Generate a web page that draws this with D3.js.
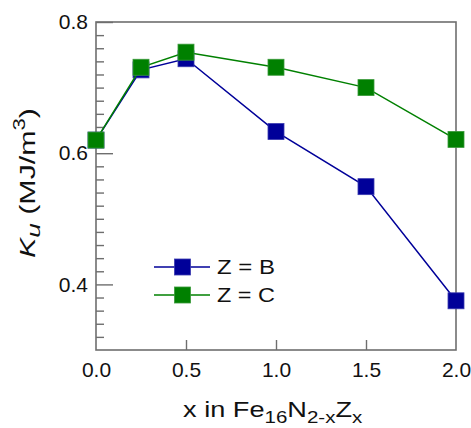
<!DOCTYPE html>
<html>
<head>
<meta charset="utf-8">
<script src="https://cdn.jsdelivr.net/npm/d3@7"></script>
<style>
  html, body { margin: 0; padding: 0; background: #fff; }
  svg { display: block; font-family: "Liberation Sans", Arial, sans-serif; }
</style>
</head>
<body>
<svg id="chart" width="471" height="428"></svg>
<script>
const xValues = [0, 0.25, 0.5, 1.0, 1.5, 2.0];
const seriesB = [0.620, 0.727, 0.744, 0.633, 0.549, 0.375];
const seriesC = [0.620, 0.731, 0.754, 0.731, 0.700, 0.621];
const seriesNames = ["Z = B", "Z = C"];
const seriesColors = ["#000099", "#008000"];
const seriesStroke = ["#3a3ab0", "#3a9a3a"];
const xTickValues = [0, 0.5, 1.0, 1.5, 2.0];
const yTickValues = [0.4, 0.6, 0.8];

const svg = d3.select("#chart");
const margin = {left: 96, top: 22, right: 15, bottom: 78};
const W = 471, H = 428;
const x = d3.scaleLinear().domain([0, 2]).range([margin.left, W - margin.right]);
const y = d3.scaleLinear().domain([0.3, 0.8]).range([H - margin.bottom, margin.top]);
const axisColor = "#6e6e6e";

// stretch a text element horizontally (in its own frame) to a target width, keeping anchor
function stretch(sel, targetW, cx, cy, rot) {
  const bb = sel.node().getBBox();
  const k = targetW / bb.width;
  const ox = bb.x + bb.width / 2;
  sel.attr("transform", `translate(${cx},${cy}) rotate(${rot}) scale(${k},1) translate(${-ox},0)`);
}

// frame
svg.append("rect")
  .attr("x", x(0)).attr("y", y(0.8))
  .attr("width", x(2) - x(0)).attr("height", y(0.3) - y(0.8))
  .attr("fill", "none").attr("stroke", axisColor).attr("stroke-width", 1.6);

// y axis ticks (inside)
const yMinor = d3.range(0.32, 0.8, 0.02).map(v => +v.toFixed(2)).filter(v => !yTickValues.some(t => Math.abs(t - v) < 1e-6));
const yAxisMinor = d3.axisRight(y).tickValues(yMinor).tickSize(8).tickFormat("");
const gyMinor = svg.append("g").attr("transform", `translate(${x(0)},0)`).call(yAxisMinor);
gyMinor.select(".domain").remove();
gyMinor.selectAll("line").attr("stroke", axisColor).attr("stroke-width", 1.4);

const yAxisMajor = d3.axisRight(y).tickValues(yTickValues).tickSize(17).tickFormat("");
const gyMajor = svg.append("g").attr("transform", `translate(${x(0)},0)`).call(yAxisMajor);
gyMajor.select(".domain").remove();
gyMajor.selectAll("line").attr("stroke", axisColor).attr("stroke-width", 1.4);

const yAxisLabels = d3.axisLeft(y).tickValues(yTickValues).tickSize(0).tickPadding(8).tickFormat(d3.format(".1f"));
const gyLab = svg.append("g").attr("transform", `translate(${x(0)},0)`).call(yAxisLabels);
gyLab.select(".domain").remove();
gyLab.selectAll("text").attr("font-size", 21).attr("fill", "#111").attr("font-family", "Liberation Sans, Arial, sans-serif");

// x axis ticks (inside, pointing up)
const xAxisTicks = d3.axisTop(x).tickValues([0.5, 1.0, 1.5]).tickSize(10).tickFormat("");
const gxT = svg.append("g").attr("transform", `translate(0,${y(0.3)})`).call(xAxisTicks);
gxT.select(".domain").remove();
gxT.selectAll("line").attr("stroke", axisColor).attr("stroke-width", 1.4);

const xAxisLabels = d3.axisBottom(x).tickValues(xTickValues).tickSize(0).tickPadding(12).tickFormat(d3.format(".1f"));
const gxLab = svg.append("g").attr("transform", `translate(0,${y(0.3)})`).call(xAxisLabels);
gxLab.select(".domain").remove();
gxLab.selectAll("text").attr("font-size", 21).attr("fill", "#111").attr("font-family", "Liberation Sans, Arial, sans-serif");

// series
const allSeries = [seriesB, seriesC];
const line = d3.line().x((d, i) => x(xValues[i])).y(d => y(d));
const ms = 16;
allSeries.forEach((s, k) => {
  svg.append("path").datum(s).attr("d", line)
    .attr("fill", "none").attr("stroke", seriesColors[k]).attr("stroke-width", 1.5);
  svg.append("g").selectAll("rect").data(s).join("rect")
    .attr("x", (d, i) => x(xValues[i]) - ms / 2)
    .attr("y", d => y(d) - ms / 2)
    .attr("width", ms).attr("height", ms)
    .attr("fill", seriesColors[k])
    .attr("stroke", seriesStroke[k]).attr("stroke-width", 0.8);
});

// legend
const legX0 = 154, legX1 = 210, legY0 = 267, legDY = 28;
seriesNames.forEach((name, k) => {
  const ly = legY0 + k * legDY;
  svg.append("line").attr("x1", legX0).attr("x2", legX1).attr("y1", ly).attr("y2", ly)
    .attr("stroke", seriesColors[k]).attr("stroke-width", 1.5);
  svg.append("rect").attr("x", (legX0 + legX1) / 2 - ms / 2 + 0.5).attr("y", ly - ms / 2)
    .attr("width", ms).attr("height", ms)
    .attr("fill", seriesColors[k]).attr("stroke", seriesStroke[k]).attr("stroke-width", 0.8);
  const t = svg.append("text").attr("x", 0).attr("y", 0)
    .attr("font-size", 20).attr("fill", "#111").text(name);
  const bb = t.node().getBBox();
  const k2 = 58 / bb.width;
  t.attr("transform", `translate(217,${ly + 7}) scale(${k2},1)`);
});

// x label
const xl = svg.append("text").attr("x", 0).attr("y", 0)
  .attr("font-size", 22.5).attr("fill", "#111");
xl.append("tspan").text("x in Fe");
xl.append("tspan").attr("font-size", 17).attr("dy", 6).text("16");
xl.append("tspan").attr("dy", -6).text("N");
xl.append("tspan").attr("font-size", 17).attr("dy", 6).text("2-x");
xl.append("tspan").attr("dy", -6).text("Z");
xl.append("tspan").attr("font-size", 17).attr("dy", 6).text("x");
stretch(xl, 180, 273, 416.5, 0);

// y label
const yl = svg.append("text").attr("x", 0).attr("y", 0)
  .attr("font-size", 22).attr("fill", "#111");
yl.append("tspan").attr("font-style", "italic").text("K");
yl.append("tspan").attr("font-style", "italic").attr("font-size", 19).attr("dy", 5).text("u");
yl.append("tspan").attr("dy", -5).text(" (MJ/m");
yl.append("tspan").attr("font-size", 16).attr("dy", -10).text("3");
yl.append("tspan").attr("dy", 10).text(")");
stretch(yl, 150, 35, 183, -90);
</script>
</body>
</html>
